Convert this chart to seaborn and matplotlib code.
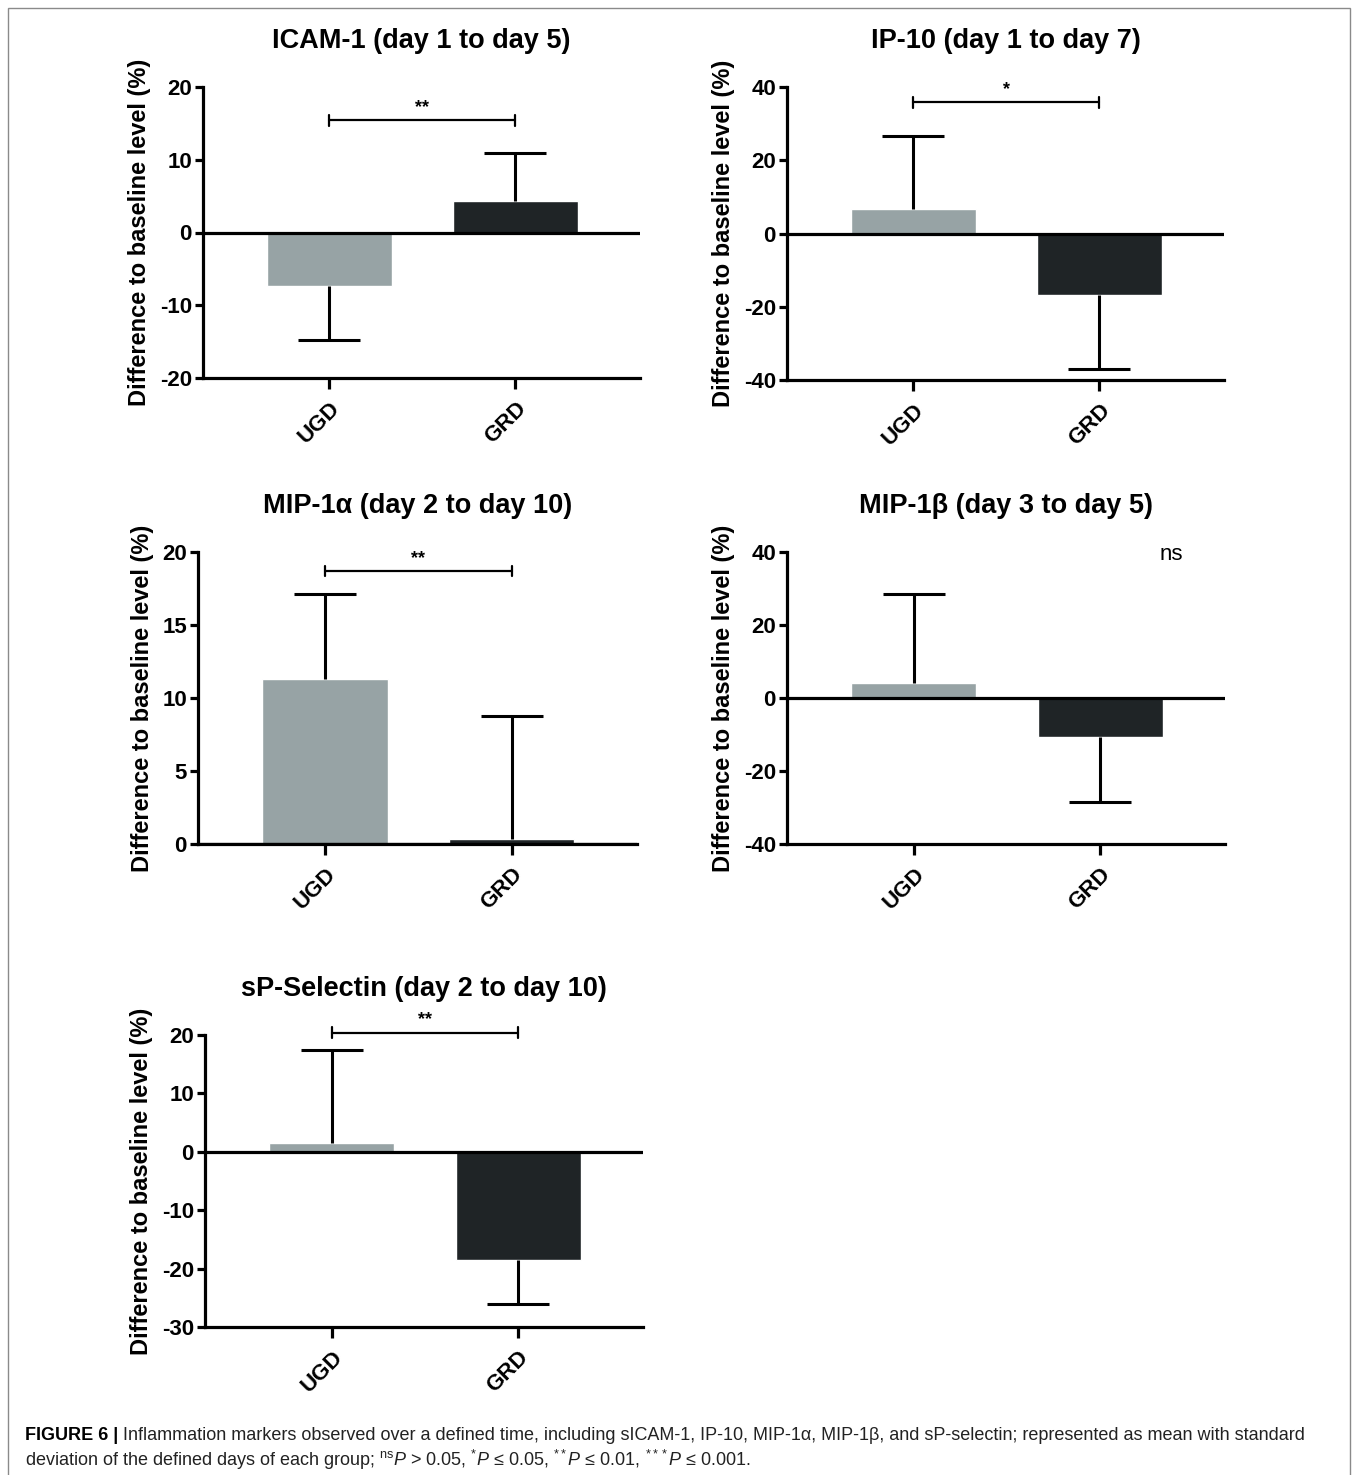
import numpy as np
import pandas as pd
import seaborn as sns
import matplotlib.pyplot as plt
from matplotlib.patches import Rectangle

# data (mean and SD, % difference to baseline)
groups = ["UGD", "GRD"]
titles = ["ICAM-1 (day 1 to day 5)", "IP-10 (day 1 to day 7)",
          "MIP-1α (day 2 to day 10)", "MIP-1β (day 3 to day 5)",
          "sP-Selectin (day 2 to day 10)"]
icam_mean = [-7.3, 4.3]
icam_sd = [7.5, 6.6]
ip10_mean = [6.8, -16.9]
ip10_sd = [19.7, 20.0]
mip1a_mean = [11.3, 0.35]
mip1a_sd = [5.8, 8.4]
mip1b_mean = [4.1, -10.7]
mip1b_sd = [24.4, 17.8]
sel_mean = [1.5, -18.5]
sel_sd = [16.0, 7.5]
means = [icam_mean, ip10_mean, mip1a_mean, mip1b_mean, sel_mean]
sds = [icam_sd, ip10_sd, mip1a_sd, mip1b_sd, sel_sd]
ylims = [(-20, 20), (-40, 40), (0, 20), (-40, 40), (-30, 20)]
yticks = [[-20, -10, 0, 10, 20], [-40, -20, 0, 20, 40], [0, 5, 10, 15, 20],
          [-40, -20, 0, 20, 40], [-30, -20, -10, 0, 10, 20]]
sig_labels = ["**", "*", "**", "ns", "**"]
sig_y = [15.4, 35.8, 18.7, None, 20.4]

colors = {"UGD": "#97a3a5", "GRD": "#1f2426"}

sns.set_theme(style="ticks")
plt.rcParams['font.family'] = ['Liberation Sans', 'DejaVu Sans']
plt.rcParams['mathtext.fontset'] = 'custom'
plt.rcParams['mathtext.rm'] = 'Liberation Sans'
plt.rcParams['mathtext.it'] = 'Liberation Sans:italic'
for k in ['text.color', 'axes.labelcolor', 'xtick.color', 'ytick.color', 'axes.edgecolor']:
    plt.rcParams[k] = 'black'

W, H = 1358, 1475
fig = plt.figure(figsize=(W / 100, H / 100), dpi=100)

# axes boxes in pixels: left, right, top, bottom
boxes = [(203, 640, 87, 378), (787, 1224, 87, 380), (198, 637, 552, 844),
         (787, 1225, 552, 844), (205, 643, 1035, 1327)]

lw = 2.3
for i in range(5):
    l, r, t, b = boxes[i]
    ax = fig.add_axes([l / W, 1 - b / H, (r - l) / W, (b - t) / H])
    df = pd.DataFrame({"group": groups, "value": means[i]})
    sns.barplot(data=df, x="group", y="value", hue="group", palette=colors,
                saturation=1, width=0.67, errorbar=None, legend=False, ax=ax)
    m = np.array(means[i])
    s = np.array(sds[i])
    # one-sided SD bars, away from zero
    ends = np.where(m >= 0, m + s, m - s)
    ax.vlines([0, 1], m, ends, color='black', lw=2.2, zorder=3)
    ax.plot([0, 1], ends, ls='none', marker='_', markersize=44,
            markeredgewidth=2.2, color='black', zorder=3)
    ax.axhline(0, color='black', lw=lw, zorder=4)
    ax.set_xlim(-0.68, 1.67)
    ax.set_ylim(*ylims[i])
    ax.set_yticks(yticks[i])
    ax.set_yticklabels([str(v) for v in yticks[i]], fontsize=16, fontweight='bold')
    ax.set_xticks([0, 1])
    ax.set_xticklabels(groups, fontsize=16, fontweight='bold', rotation=45,
                       ha='right', rotation_mode='anchor')
    ax.tick_params(axis='y', length=6, width=lw, pad=2)
    ax.tick_params(axis='x', length=8, width=lw, pad=6)
    ax.set_xlabel("")
    ax.set_ylabel("Difference to baseline level (%)", fontsize=17,
                  fontweight='bold', labelpad=6)
    ax.set_title(titles[i], fontsize=19.5, fontweight='bold', pad=28)
    sns.despine(ax=ax)
    ax.spines['left'].set_linewidth(lw)
    ax.spines['bottom'].set_linewidth(lw)
    ax.patch.set_alpha(0)

    lo, hi = ylims[i]
    span = hi - lo
    if sig_y[i] is not None:
        y = sig_y[i]
        d = span * 0.018
        ax.plot([0, 1], [y, y], color='black', lw=1.6, clip_on=False)
        ax.plot([0, 0], [y - d, y + d], color='black', lw=1.6, clip_on=False)
        ax.plot([1, 1], [y - d, y + d], color='black', lw=1.6, clip_on=False)
        ax.text(0.5, y + span * 0.015, sig_labels[i], ha='center', va='bottom',
                fontsize=13, fontweight='bold')
    else:
        ax.text(1.38, hi - span * 0.01, sig_labels[i], ha='center', va='center',
                fontsize=16)

# frame around the figure
fig.add_artist(Rectangle((8 / W, -0.01), 1342 / W, 1 - 8 / H + 0.01,
                         transform=fig.transFigure, fill=False,
                         edgecolor='#8a8a8a', lw=1))

# caption
cap_size = 13
t1 = fig.text(25 / W, 1 - 1435 / H, "FIGURE 6 |", fontsize=cap_size,
              fontweight='bold', va='center', ha='left')
renderer = fig.canvas.get_renderer()
bb = t1.get_window_extent(renderer)
fig.text(bb.x1 / W + 5 / W, 1 - 1435 / H,
         "Inflammation markers observed over a defined time, including sICAM-1, IP-10, "
         "MIP-1α, MIP-1β, and sP-selectin; represented as mean with standard",
         fontsize=cap_size, va='center', ha='left', color='#222222')
fig.text(25 / W, 1 - 1460 / H,
         r"deviation of the defined days of each group; $^{\rm ns}\it{P}$ > 0.05, "
         r"$^{*}\it{P}$ ≤ 0.05, $^{**}\it{P}$ ≤ 0.01, $^{***}\it{P}$ ≤ 0.001.",
         fontsize=cap_size, va='center', ha='left', color='#222222')

fig.savefig("out.png", dpi=100)
